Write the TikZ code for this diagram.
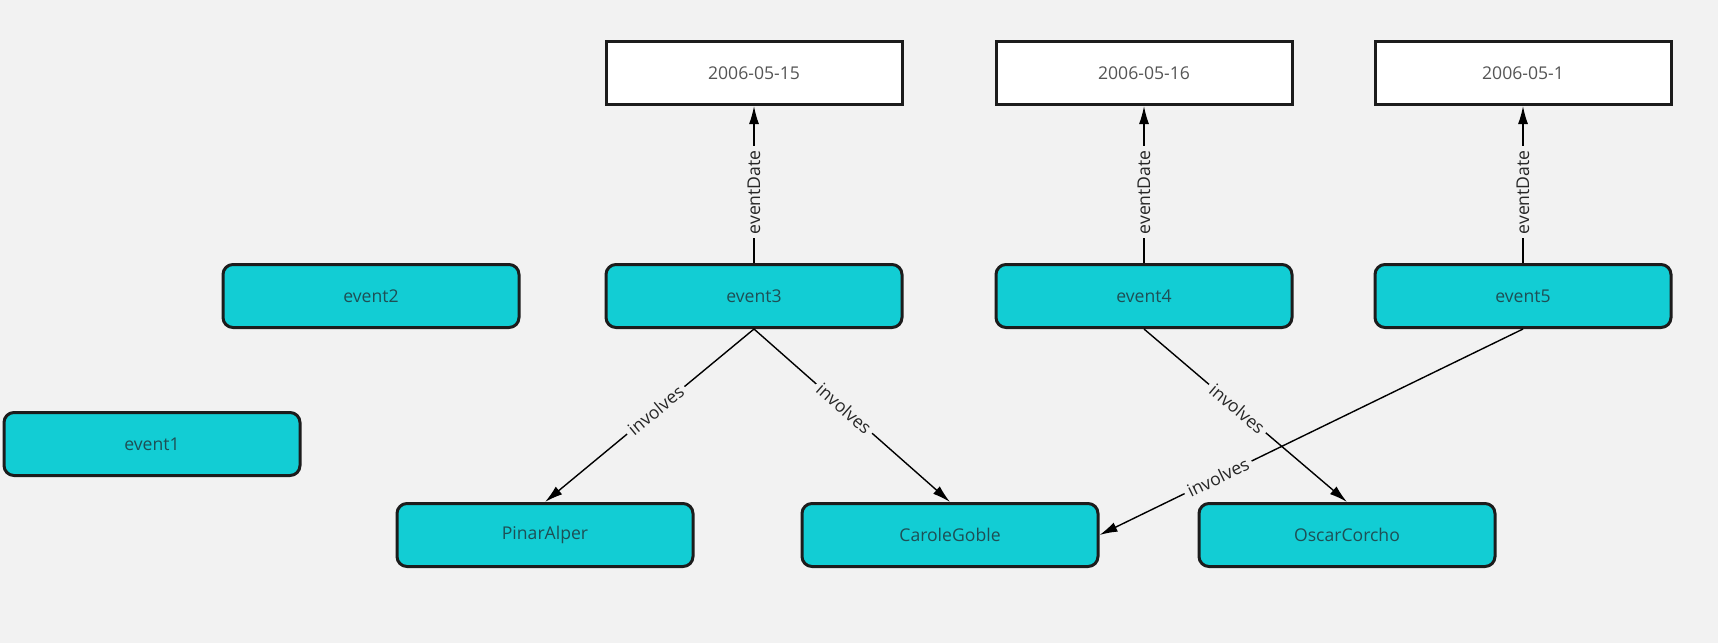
\documentclass[tikz,border=0pt]{standalone}
\usepackage{fontspec}
\setmainfont{Open Sans}
\usetikzlibrary{arrows.meta}

\definecolor{bgcol}{HTML}{F2F2F2}
\definecolor{entcol}{HTML}{12CDD4}
\definecolor{framecol}{HTML}{1C1C1C}
\definecolor{enttext}{HTML}{1E4F55}
\definecolor{datetext}{HTML}{555555}

\tikzset{
  boxfont/.style={font=\fontsize{8.8}{10}\selectfont},
  entity/.style={boxfont, draw=framecol, line width=1.5pt, fill=entcol,
    rounded corners=5pt, minimum width=148pt, minimum height=31.5pt, text=enttext},
  literal/.style={boxfont, draw=framecol, line width=1.5pt, fill=white,
    minimum width=148pt, minimum height=31.5pt, text=datetext},
  rel/.style={draw=black, line width=0.7pt, -{Latex[length=9pt,width=5pt]}},
  relname/.style={boxfont, fill=bgcol, sloped, inner sep=2pt, text=black!85}
}

\begin{document}
\begin{tikzpicture}[x=0.5pt,y=-0.5pt]
  \fill[bgcol] (0,0) rectangle (1718,643);
  \useasboundingbox (0,0) rectangle (1718,643);

  % dates
  \node[literal] (d15) at (754,73) {2006-05-15};
  \node[literal] (d16) at (1144,73) {2006-05-16};
  \node[literal] (d01) at (1523,73) {2006-05-1};

  % events
  \node[entity] (event2) at (371,296) {event2};
  \node[entity] (event3) at (754,296) {event3};
  \node[entity] (event4) at (1144,296) {event4};
  \node[entity] (event5) at (1523,296) {event5};
  \node[entity] (event1) at (152,444) {event1};

  % people
  \node[entity] (pinar) at (545,535) {PinarAlper};
  \node[entity] (carole) at (950,535) {CaroleGoble};
  \node[entity] (oscar) at (1347,535) {OscarCorcho};

  % relations
  \draw[rel] (event3.north) -- node[relname, pos=0.45] {eventDate} (d15.south);
  \draw[rel] (event4.north) -- node[relname, pos=0.45] {eventDate} (d16.south);
  \draw[rel] (event5.north) -- node[relname, pos=0.45] {eventDate} (d01.south);
  \draw[rel] (event3.south) -- node[relname, pos=0.47] {involves} (pinar.north);
  \draw[rel] (event3.south) -- node[relname, pos=0.46] {involves} (carole.north);
  \draw[rel] (event4.south) -- node[relname, pos=0.46] {involves} (oscar.north);
  \draw[rel] (event5.south) -- node[relname, pos=0.72] {involves} (carole.east);
\end{tikzpicture}
\end{document}
